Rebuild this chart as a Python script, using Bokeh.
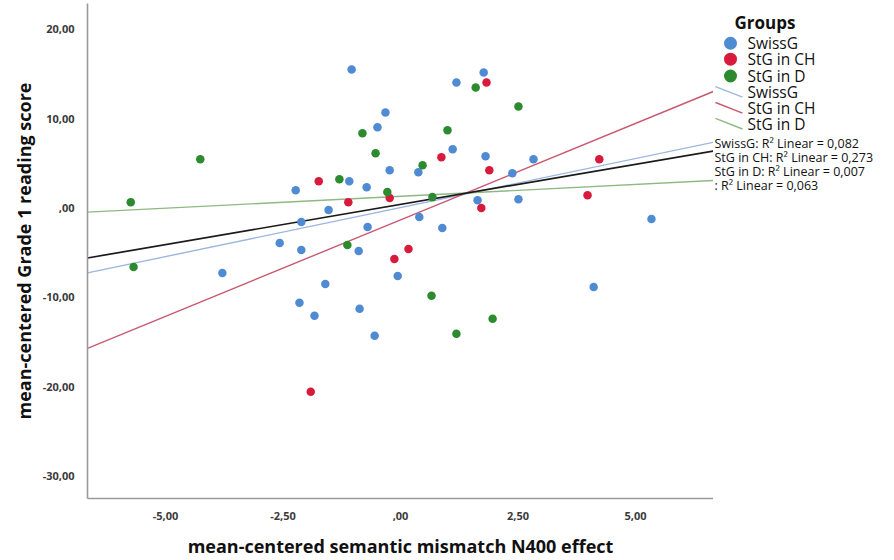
from bokeh.plotting import figure
from bokeh.models import Range1d, FixedTicker, ColumnDataSource
from bokeh.layouts import row
from bokeh.embed import file_html
from bokeh.resources import INLINE
from bokeh.core.properties import value

# ---------------- data ----------------
groups = ["SwissG", "StG in CH", "StG in D"]

swiss_x = [-1.04, 1.77, 1.19, -0.32, -0.49, 1.11, 1.81, 2.83, -0.23, 0.38, 2.38,
           -2.23, -1.09, -0.72, 1.64, 2.51, -1.53, -2.11, 0.40, -0.70, 0.89,
           -2.57, -2.11, -0.89, -0.06, -3.79, -1.60, -2.15, -0.87, -1.83, -0.55,
           4.11, 5.34]
swiss_y = [15.51, 15.18, 14.06, 10.71, 9.04, 6.58, 5.80, 5.47, 4.24, 4.02, 3.91,
           2.01, 3.01, 2.34, 0.89, 1.00, -0.22, -1.56, -1.00, -2.12, -2.23,
           -3.91, -4.69, -4.80, -7.59, -7.25, -8.48, -10.60, -11.27, -12.05, -14.29,
           -8.82, -1.23]

stg_ch_x = [1.83, 0.87, 1.89, 4.23, -1.74, -0.23, -1.11, 1.72, 3.98, 0.17, -0.13, -1.91]
stg_ch_y = [14.06, 5.69, 4.24, 5.47, 3.01, 1.12, 0.67, 0.00, 1.45, -4.58, -5.69, -20.54]

stg_d_x = [1.60, 2.51, -0.81, 1.00, -0.53, 0.47, -1.30, -0.28, 0.68, -4.26, -5.74,
           -5.68, -1.13, 0.66, 1.96, 1.19]
stg_d_y = [13.50, 11.38, 8.37, 8.71, 6.14, 4.80, 3.24, 1.79, 1.23, 5.47, 0.67,
           -6.58, -4.13, -9.82, -12.39, -14.06]

# fit lines: y value at the left and right end of the x range
fit_names = ["SwissG", "StG in CH", "StG in D", ""]
fit_y_left = [-7.25, -15.7, -0.45, -5.58]
fit_y_right = [7.37, 13.06, 3.10, 6.40]
r2_values = [0.082, 0.273, 0.007, 0.063]

x_ticks = [-5.0, -2.5, 0.0, 2.5, 5.0]
x_tick_labels = ["-5,00", "-2,50", ",00", "2,50", "5,00"]
y_ticks = [-30, -20, -10, 0, 10, 20]
y_tick_labels = ["-30,00", "-20,00", "-10,00", ",00", "10,00", "20,00"]

X_MIN, X_MAX = -6.66, 6.66
Y_MIN, Y_MAX = -32.5, 22.9

# ---------------- styles ----------------
point_colors = ["#4f8bd3", "#d81b3c", "#2c8a2f"]
line_colors = ["#9db6df", "#c85a70", "#8fb882", "#1a1a1a"]
FONT = "Open Sans"

# ---------------- main figure ----------------
p = figure(width=713, height=560, output_backend="svg", toolbar_location=None,
           x_range=Range1d(X_MIN, X_MAX), y_range=Range1d(Y_MIN, Y_MAX),
           min_border_left=87, min_border_right=0, min_border_top=3,
           min_border_bottom=61)
p.outline_line_color = None
p.xgrid.visible = False
p.ygrid.visible = False
p.background_fill_color = "white"
p.border_fill_color = "white"

# fit lines
for i in range(4):
    src = ColumnDataSource(dict(x=[X_MIN, X_MAX], y=[fit_y_left[i], fit_y_right[i]]))
    p.line("x", "y", source=src, line_color=line_colors[i],
           line_width=1.7 if i == 3 else 1.4)

# points
for xs, ys, c in [(swiss_x, swiss_y, point_colors[0]),
                  (stg_ch_x, stg_ch_y, point_colors[1]),
                  (stg_d_x, stg_d_y, point_colors[2])]:
    src = ColumnDataSource(dict(x=xs, y=ys))
    p.scatter("x", "y", source=src, size=8.5, fill_color=c, line_color=None)

# axes
p.xaxis.ticker = FixedTicker(ticks=x_ticks)
p.yaxis.ticker = FixedTicker(ticks=y_ticks)
p.xaxis.major_label_overrides = {t: l for t, l in zip(x_ticks, x_tick_labels)}
p.yaxis.major_label_overrides = {t: l for t, l in zip(y_ticks, y_tick_labels)}
for ax in (p.xaxis[0], p.yaxis[0]):
    ax.axis_line_color = "#9a9a9a"
    ax.axis_line_width = 1.6
    ax.major_tick_line_color = None
    ax.minor_tick_line_color = None
    ax.major_label_text_font = FONT
    ax.major_label_text_font_size = "11px"
    ax.major_label_text_font_style = "bold"
    ax.major_label_text_color = "#3a3a3a"
    ax.axis_label_text_font = FONT
    ax.axis_label_text_font_size = "18px"
    ax.axis_label_text_font_style = "bold"
    ax.axis_label_text_color = "#111111"

p.xaxis.axis_label = "mean-centered semantic mismatch N400 effect"
p.yaxis.axis_label = "mean-centered Grade 1 reading score"
p.xaxis.major_label_standoff = 7
p.yaxis.major_label_standoff = 7
p.xaxis.axis_label_standoff = 11
p.yaxis.axis_label_standoff = 4

# ---------------- legend panel ----------------
lg = figure(width=181, height=560, output_backend="svg", toolbar_location=None,
            x_range=Range1d(713, 894), y_range=Range1d(560, 0),
            min_border_left=0, min_border_right=0, min_border_top=0,
            min_border_bottom=0)
lg.outline_line_color = None
lg.xaxis.visible = False
lg.yaxis.visible = False
lg.xgrid.visible = False
lg.ygrid.visible = False
lg.border_fill_color = "white"

lg.text(x=[734], y=[21], text=["Groups"], text_font=value(FONT),
        text_font_size="17px", text_font_style="bold", text_baseline="middle",
        text_color="#111111")

item_y = [45, 63, 82]
lg.scatter(x=[730, 730, 730], y=item_y, size=13, fill_color=point_colors,
           line_color=None)
lg.text(x=[747] * 3, y=item_y, text=groups, text_font=value(FONT),
        text_font_size="15.5px", text_baseline="middle", text_color="#111111")

line_item_y = [100, 118, 136]
lg.segment(x0=[715] * 3, y0=[y - 6 for y in line_item_y],
           x1=[742] * 3, y1=[y + 6 for y in line_item_y],
           line_color=line_colors[:3], line_width=1.4)
lg.text(x=[747] * 3, y=line_item_y, text=groups, text_font=value(FONT),
        text_font_size="15.5px", text_baseline="middle", text_color="#111111")

r2_texts = []
for name, r2 in zip(fit_names, r2_values):
    r2s = f"{r2:.3f}".replace("0.", "0,")
    prefix = f"{name}: " if name else ": "
    r2_texts.append(f"{prefix}R\u00b2 Linear = {r2s}")
lg.text(x=[714] * 4, y=[158, 174, 190, 206], text=r2_texts, text_font=value(FONT),
        text_font_size="12.5px", text_baseline="middle", text_color="#111111")

layout = row(p, lg, spacing=0)
open("out.html", "w").write(file_html(layout, INLINE))
